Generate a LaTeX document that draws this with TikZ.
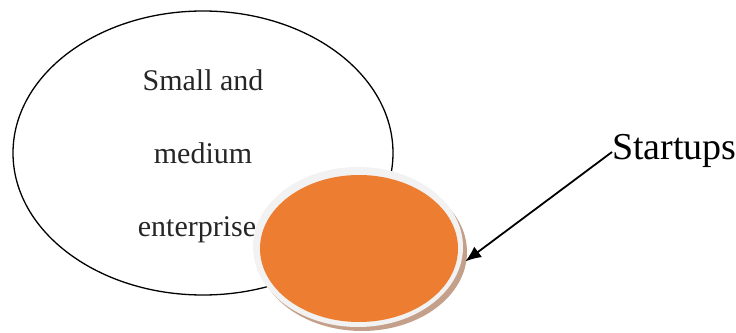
\documentclass[tikz,border=0pt]{standalone}
\usepackage{fontspec}
\setmainfont{Liberation Serif}
\usetikzlibrary{arrows.meta,shapes.geometric}
\definecolor{orng}{RGB}{237,125,49}
\definecolor{ringc}{RGB}{242,242,242}
\definecolor{shad}{RGB}{196,160,138}
\tikzset{
  lbl/.style={font=\fontsize{30}{33}\selectfont, text=black!85, inner sep=0pt},
}
\begin{document}
\begin{tikzpicture}[x=1pt,y=-1pt]
\useasboundingbox (0,0) rectangle (736,332);
\draw[line width=1.3pt] (203,153) ellipse [x radius=190, y radius=142];
\node[lbl, anchor=base] (l1) at (203,90) {Small and};
\node[lbl, anchor=base] (l2) at (203,163) {medium};
\node[lbl, anchor=base] (l3) at (197,236) {enterprise};
\fill[shad] (362,252) ellipse [x radius=105, y radius=79];
\fill[ringc] (358,247) ellipse [x radius=105, y radius=80];
\node[ellipse, fill=orng, minimum width=198pt, minimum height=147pt, inner sep=0pt] (su) at (359,248.5) {};
\node[font=\fontsize{38}{40}\selectfont, anchor=base west, inner sep=0pt] (st) at (612,159) {Startups};
\draw[line width=1.8pt, -{Latex[length=16pt,width=13pt]}] ([yshift=7pt]st.base west) -- ([xshift=7pt,yshift=-13pt]su.east);
\end{tikzpicture}
\end{document}
